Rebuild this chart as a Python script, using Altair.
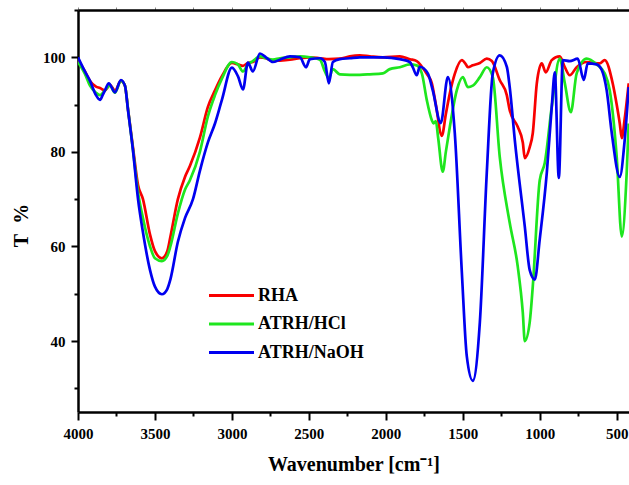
import altair as alt
import pandas as pd

# RHA
rha_wn = [4000, 3955, 3922, 3883, 3857, 3825, 3792, 3760, 3721, 3695, 3675, 3643, 3610, 3578, 3532, 3500,
          3455, 3420, 3400, 3351, 3305, 3273, 3208, 3156, 3110, 3065, 3000, 2961, 2928, 2896, 2864, 2818,
          2779, 2734, 2688, 2623, 2558, 2493, 2428, 2370, 2299, 2234, 2169, 2104, 2019, 1909, 1844, 1799,
          1766, 1734, 1701, 1675, 1636, 1610, 1584, 1552, 1506, 1480, 1467, 1435, 1389, 1344, 1311, 1260,
          1214, 1195, 1143, 1110, 1097, 1065, 1045, 1019, 987, 961, 922, 870, 837, 805, 760, 695, 610, 578,
          526, 500, 480, 467, 448, 422]
rha_t = [99.5, 97, 95, 93.8, 93.5, 93, 94.2, 93, 95, 94, 89, 81, 73, 70, 62.5, 59,
         57.5, 59, 62, 70, 74.7, 77, 83, 89.5, 93, 96, 98.8, 98.5, 98.2, 98.8, 99, 100,
         99.8, 99.2, 99.3, 99.5, 99.8, 100, 99.8, 99.6, 99.7, 100.2, 100.4, 100.2, 100, 100.2, 99.6, 99.2,
         98, 96.5, 94.5, 90, 83.4, 88, 92.4, 96.5, 99.4, 98.5, 97.9, 98.3, 98.8, 99.7, 99.2, 95.2,
         92, 88.8, 85.3, 82, 78.7, 81, 84, 94.5, 98.7, 96.8, 99.4, 100.2, 97.9, 96.2, 97.9, 99, 98.7, 99.4,
         94.5, 90, 86, 82.9, 87, 94.5]

# ATRH/HCl
hcl_wn = [4000, 3955, 3922, 3883, 3857, 3825, 3792, 3760, 3721, 3695, 3675, 3643, 3610, 3578, 3532, 3500,
          3455, 3420, 3400, 3351, 3305, 3273, 3208, 3156, 3110, 3065, 3000, 2961, 2928, 2896, 2864, 2818,
          2779, 2734, 2688, 2623, 2558, 2493, 2428, 2396, 2370, 2344, 2299, 2234, 2169, 2104, 2019, 1974,
          1909, 1844, 1799, 1766, 1734, 1701, 1690, 1675, 1660, 1630, 1610, 1584, 1539, 1500, 1467, 1435,
          1389, 1344, 1305, 1260, 1195, 1143, 1110, 1097, 1065, 1045, 1000, 967, 922, 870, 837, 798, 760,
          695, 630, 578, 545, 500, 467, 435, 422]
hcl_t = [99, 96.5, 94, 92.5, 92, 93, 94, 92.5, 95, 94, 89, 80.5, 71.5, 66, 60, 57.5,
         56.9, 58, 60, 67, 72, 74, 80, 87.5, 92, 95.5, 99, 98.5, 97, 98.5, 99.2, 100.2,
         99.8, 99.5, 99.8, 100, 100.2, 100, 99.5, 97, 95.6, 97.5, 96.4, 96.3, 96.3, 96.4, 96.6, 97.5,
         97.9, 98.5, 98.3, 96.6, 91, 86.7, 86, 86.5, 83, 75.8, 80, 85.3, 93, 95.8, 93.7, 94,
         95.8, 97.9, 95.8, 79, 65, 55.8, 46, 40, 44, 51.6, 74, 77.7, 89.5, 99.7, 94.5, 88.4, 96.6,
         99.7, 98.5, 96.6, 93, 79, 62.1, 75.6, 86]

# ATRH/NaOH
naoh_wn = [4000, 3955, 3922, 3883, 3857, 3840, 3825, 3800, 3760, 3721, 3695, 3675, 3643, 3610, 3578, 3532,
           3500, 3455, 3420, 3400, 3351, 3305, 3253, 3208, 3156, 3110, 3065, 3000, 2961, 2928, 2896, 2864,
           2818, 2779, 2734, 2688, 2623, 2558, 2519, 2493, 2428, 2396, 2370, 2344, 2299, 2234, 2169, 2104,
           2019, 1909, 1844, 1825, 1799, 1780, 1727, 1695, 1643, 1597, 1552, 1506, 1474, 1435, 1389, 1344,
           1305, 1260, 1214, 1195, 1162, 1097, 1065, 1032, 1000, 954, 922, 902, 876, 850, 805, 753, 714,
           688, 630, 597, 565, 532, 480, 448, 422]
naoh_t = [100, 97, 95, 92, 91, 92, 93, 94.5, 92.6, 95.2, 94, 88.8, 80.4, 70, 63, 55,
          51.5, 49.9, 51, 53, 61, 66, 70, 76, 82, 86, 91, 97.8, 96, 93.2, 98.9, 97,
          100.8, 100, 99, 99.5, 100.2, 100, 97.9, 99.6, 99.8, 99, 94.5, 99, 99.6, 99.8, 100, 100,
          100, 99.6, 99, 97.9, 96.2, 98, 96.6, 93, 86.1, 95.8, 84, 54.5, 36.8, 31.6, 44, 75.6,
          96.6, 100.4, 98, 93.7, 82.5, 64.2, 55, 53, 61.5, 75.6, 89.5, 96.8, 74.5, 99.4, 99.2, 99.7, 95.2,
          98.7, 98.5, 97.3, 93, 84, 74.7, 82.5, 93.7]

series = ["RHA", "ATRH/HCl", "ATRH/NaOH"]
colors = ["#f80000", "#1ee61e", "#0000f0"]

frames = []
for name, wn, t in [(series[0], rha_wn, rha_t), (series[1], hcl_wn, hcl_t), (series[2], naoh_wn, naoh_t)]:
    frames.append(pd.DataFrame({"wn": wn, "T": t, "sample": name}))
df = pd.concat(frames, ignore_index=True)

FONT = "Liberation Serif"
x_ticks = list(range(4000, 399, -250))
y_ticks = list(range(30, 111, 10))

x_scale = alt.Scale(domain=[4000, 420], nice=False, zero=False)
y_scale = alt.Scale(domain=[25, 110], nice=False, zero=False)

lines = alt.Chart(df).mark_line(strokeWidth=2.7, interpolate="monotone", clip=True).encode(
    x=alt.X("wn:Q", scale=x_scale,
            axis=alt.Axis(title="Wavenumber [cm\u207b\u00b9]", values=x_ticks,
                          labelExpr="datum.value % 500 === 0 ? datum.label : ''",
                          tickSize={"condition": {"test": "datum.value % 500 === 0", "value": 8}, "value": 4},
                          format="d")),
    y=alt.Y("T:Q", scale=y_scale,
            axis=alt.Axis(title="T\u00a0 %", values=y_ticks, titleY=215,
                          labelExpr="datum.value % 20 === 0 ? datum.label : ''",
                          tickSize={"condition": {"test": "datum.value % 20 === 0", "value": 7}, "value": 4})),
    color=alt.Color("sample:N", scale=alt.Scale(domain=series, range=colors), sort=series,
                    legend=alt.Legend(title=None, orient="none", legendX=143, legendY=275,
                                      symbolType="M-2.5,0H2.5", symbolSize=324, symbolStrokeWidth=3,
                                      rowPadding=8.5, labelOffset=16,
                                      labelFont=FONT, labelFontSize=18, labelFontWeight="bold",
                                      labelColor="black")),
)

top = alt.Chart(df).mark_line(opacity=0).encode(
    x=alt.X("wn:Q", scale=x_scale,
            axis=alt.Axis(orient="top", title=None, labels=False, values=x_ticks, tickSize=3,
                          tickColor="#888888", tickWidth=1)),
    y=alt.Y("T:Q", scale=y_scale),
)

chart = alt.layer(lines, top).resolve_axis(x="independent").properties(
    width=551, height=402,
    padding={"left": 78, "top": 10, "right": 0, "bottom": 73},
    autosize="none",
).configure_view(stroke=None).configure_axis(
    grid=False,
    domainColor="black", domainWidth=2.5,
    tickColor="black", tickWidth=2,
    labelFont=FONT, labelFontSize=15, labelFontWeight="bold", labelColor="black",
    labelPadding=6,
    titleFont=FONT, titleFontSize=20, titleFontWeight="bold", titleColor="black",
).configure_axisX(titlePadding=13, labelFlush=False).configure_axisY(titlePadding=11)

chart.save("out.html", embed_options={"renderer": "svg", "actions": False})
